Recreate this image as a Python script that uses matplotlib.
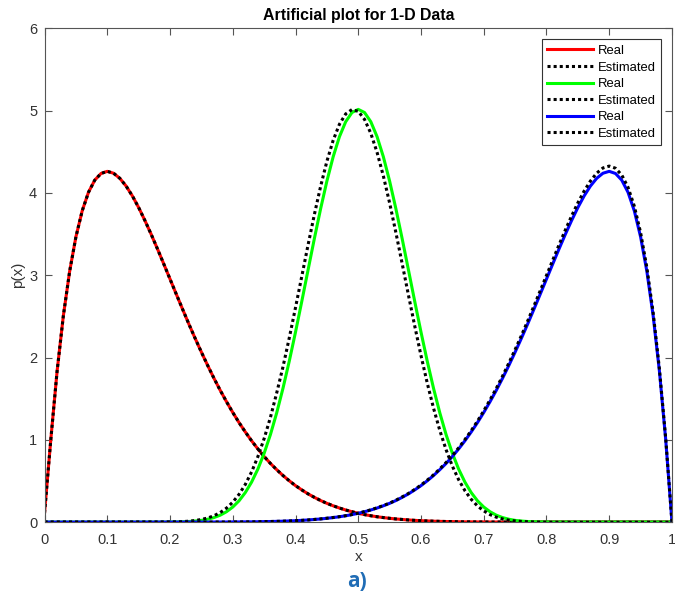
import numpy as np
import matplotlib
matplotlib.use("Agg")
import matplotlib.pyplot as plt

plt.rcParams['font.family'] = ['Liberation Sans', 'DejaVu Sans']

# shared sample grid, x = 0.00 ... 1.00 in steps of 0.01
x = np.linspace(0, 1, 101)

# red: real and estimated overlap
red_real = [
    0.110, 1.005, 1.834, 2.509, 3.047, 3.466, 3.782, 4.007, 4.155, 4.236,
    4.262, 4.239, 4.177, 4.083, 3.963, 3.822, 3.664, 3.496, 3.319, 3.137,
    2.953, 2.769, 2.587, 2.407, 2.233, 2.065, 1.903, 1.748, 1.601, 1.463,
    1.332, 1.209, 1.095, 0.988, 0.889, 0.797, 0.713, 0.637, 0.566, 0.502,
    0.443, 0.391, 0.343, 0.301, 0.262, 0.228, 0.198, 0.171, 0.147, 0.126,
    0.107, 0.091, 0.077, 0.065, 0.055, 0.046, 0.038, 0.032, 0.026, 0.021,
    0.017, 0.014, 0.011, 0.009, 0.007, 0.006, 0.004, 0.003, 0.003, 0.002,
    0.002, 0.001, 0.001, 0.001, 0, 0, 0, 0, 0, 0,
    0, 0, 0, 0, 0, 0, 0, 0, 0, 0,
    0, 0, 0, 0, 0, 0, 0, 0, 0, 0,
    0]
red_est = [
    0.110, 1.005, 1.834, 2.509, 3.047, 3.466, 3.782, 4.007, 4.155, 4.236,
    4.262, 4.239, 4.177, 4.083, 3.963, 3.822, 3.664, 3.496, 3.319, 3.137,
    2.953, 2.769, 2.587, 2.407, 2.233, 2.065, 1.903, 1.748, 1.601, 1.463,
    1.332, 1.209, 1.095, 0.988, 0.889, 0.797, 0.713, 0.637, 0.566, 0.502,
    0.443, 0.391, 0.343, 0.301, 0.262, 0.228, 0.198, 0.171, 0.147, 0.126,
    0.107, 0.091, 0.077, 0.065, 0.055, 0.046, 0.038, 0.032, 0.026, 0.021,
    0.017, 0.014, 0.011, 0.009, 0.007, 0.006, 0.004, 0.003, 0.003, 0.002,
    0.002, 0.001, 0.001, 0.001, 0, 0, 0, 0, 0, 0,
    0, 0, 0, 0, 0, 0, 0, 0, 0, 0,
    0, 0, 0, 0, 0, 0, 0, 0, 0, 0,
    0]

green_real = [
    0, 0, 0, 0, 0, 0, 0, 0, 0, 0,
    0, 0, 0, 0, 0, 0, 0, 0.0001, 0.0002, 0.0005,
    0.001, 0.002, 0.004, 0.007, 0.013, 0.021, 0.035, 0.055, 0.084, 0.126,
    0.183, 0.259, 0.359, 0.486, 0.644, 0.836, 1.063, 1.327, 1.625, 1.954,
    2.309, 2.682, 3.064, 3.443, 3.807, 4.143, 4.439, 4.683, 4.865, 4.977,
    5.015, 4.977, 4.865, 4.683, 4.439, 4.143, 3.807, 3.443, 3.064, 2.682,
    2.309, 1.954, 1.625, 1.327, 1.063, 0.836, 0.644, 0.486, 0.359, 0.259,
    0.183, 0.126, 0.084, 0.055, 0.035, 0.021, 0.013, 0.007, 0.004, 0.002,
    0.001, 0.0005, 0.0002, 0.0001, 0, 0, 0, 0, 0, 0,
    0, 0, 0, 0, 0, 0, 0, 0, 0, 0,
    0]
green_est = [
    0, 0, 0, 0, 0, 0, 0, 0, 0, 0,
    0, 0, 0, 0, 0, 0, 0.0001, 0.0002, 0.0004, 0.0009,
    0.0018, 0.0035, 0.006, 0.011, 0.019, 0.032, 0.050, 0.077, 0.116, 0.170,
    0.242, 0.337, 0.458, 0.610, 0.795, 1.015, 1.272, 1.569, 1.886, 2.236,
    2.607, 2.987, 3.368, 3.736, 4.079, 4.384, 4.639, 4.834, 4.960, 5.013,
    4.991, 4.893, 4.724, 4.492, 4.206, 3.877, 3.517, 3.140, 2.758, 2.383,
    2.023, 1.688, 1.384, 1.113, 0.879, 0.680, 0.515, 0.382, 0.277, 0.196,
    0.136, 0.091, 0.060, 0.038, 0.023, 0.014, 0.008, 0.0045, 0.0024, 0.0012,
    0.0006, 0.0003, 0.0001, 0, 0, 0, 0, 0, 0, 0,
    0, 0, 0, 0, 0, 0, 0, 0, 0, 0,
    0]

blue_real = [
    0, 0, 0, 0, 0, 0, 0, 0, 0, 0,
    0, 0, 0, 0, 0, 0, 0, 0, 0, 0,
    0, 0, 0, 0, 0, 0, 0, 0.001, 0.001, 0.001,
    0.002, 0.002, 0.003, 0.003, 0.004, 0.006, 0.007, 0.009, 0.011, 0.014,
    0.017, 0.021, 0.026, 0.032, 0.038, 0.046, 0.055, 0.065, 0.077, 0.091,
    0.107, 0.126, 0.147, 0.171, 0.198, 0.228, 0.262, 0.301, 0.343, 0.391,
    0.443, 0.502, 0.566, 0.637, 0.713, 0.797, 0.889, 0.988, 1.095, 1.209,
    1.332, 1.463, 1.601, 1.748, 1.903, 2.065, 2.233, 2.407, 2.587, 2.769,
    2.953, 3.137, 3.319, 3.496, 3.664, 3.822, 3.963, 4.083, 4.177, 4.239,
    4.262, 4.236, 4.155, 4.007, 3.782, 3.466, 3.047, 2.509, 1.834, 1.005,
    0]
blue_est = [
    0, 0, 0, 0, 0, 0, 0, 0, 0, 0,
    0, 0, 0, 0, 0, 0, 0, 0, 0, 0,
    0, 0, 0, 0, 0, 0, 0, 0.001, 0.001, 0.001,
    0.002, 0.002, 0.003, 0.003, 0.004, 0.006, 0.007, 0.009, 0.011, 0.014,
    0.017, 0.021, 0.026, 0.032, 0.039, 0.047, 0.056, 0.066, 0.078, 0.092,
    0.109, 0.128, 0.149, 0.174, 0.201, 0.231, 0.266, 0.306, 0.348, 0.397,
    0.450, 0.510, 0.574, 0.647, 0.724, 0.809, 0.902, 1.003, 1.111, 1.227,
    1.352, 1.485, 1.625, 1.774, 1.932, 2.096, 2.266, 2.443, 2.626, 2.811,
    2.997, 3.184, 3.369, 3.548, 3.719, 3.879, 4.022, 4.144, 4.240, 4.303,
    4.326, 4.300, 4.217, 4.067, 3.839, 3.518, 3.093, 2.547, 1.862, 1.020,
    0]

series = [
    (red_real, red_est, '#ff0000'),
    (green_real, green_est, '#00ff00'),
    (blue_real, blue_est, '#0000ff'),
]

fig = plt.figure(figsize=(6.75, 5.96), dpi=100)
ax = fig.add_axes([0.066, 0.124, 0.9295, 0.8285])

for real, est, col in series:
    ax.plot(x, real, color=col, lw=2.2, label='Real')
    ax.plot(x, est, color='black', lw=2.2, linestyle=(0, (1, 1)),
            dash_capstyle='butt', label='Estimated')

ax.set_xlim(0, 1)
ax.set_ylim(0, 6)
ax.set_xticks(np.arange(0, 1.01, 0.1))
ax.set_xticklabels(['0', '0.1', '0.2', '0.3', '0.4', '0.5', '0.6', '0.7', '0.8', '0.9', '1'])
ax.set_yticks(range(7))

gray = '#333333'
for s in ax.spines.values():
    s.set_color('#555555')
    s.set_linewidth(0.8)
ax.tick_params(direction='in', top=True, right=True, length=5, width=0.8,
               colors='#555555', labelcolor=gray, labelsize=10.5)
ax.tick_params(axis='x', pad=7.8)
ax.tick_params(axis='y', pad=5.3)

ax.set_title('Artificial plot for 1-D Data', fontsize=11.4, fontweight='bold', pad=6)
ax.set_xlabel('x', fontsize=11, color=gray, labelpad=2)
ax.set_ylabel('p(x)', fontsize=11, color=gray, labelpad=3)

leg = ax.legend(loc='upper right', fontsize=9.4, handlelength=3.5,
                frameon=True, fancybox=False, framealpha=1, borderpad=0.42,
                labelspacing=0.34, handletextpad=0.34, borderaxespad=0.85)
leg.get_frame().set_edgecolor('#333333')
leg.get_frame().set_linewidth(0.8)

fig.text(0.529, 0.0235, 'a)', color='#1f6cb5', fontsize=15, fontweight='bold',
         family=['Open Sans', 'DejaVu Sans'], ha='center', va='center')

plt.savefig('out.png', dpi=100)
